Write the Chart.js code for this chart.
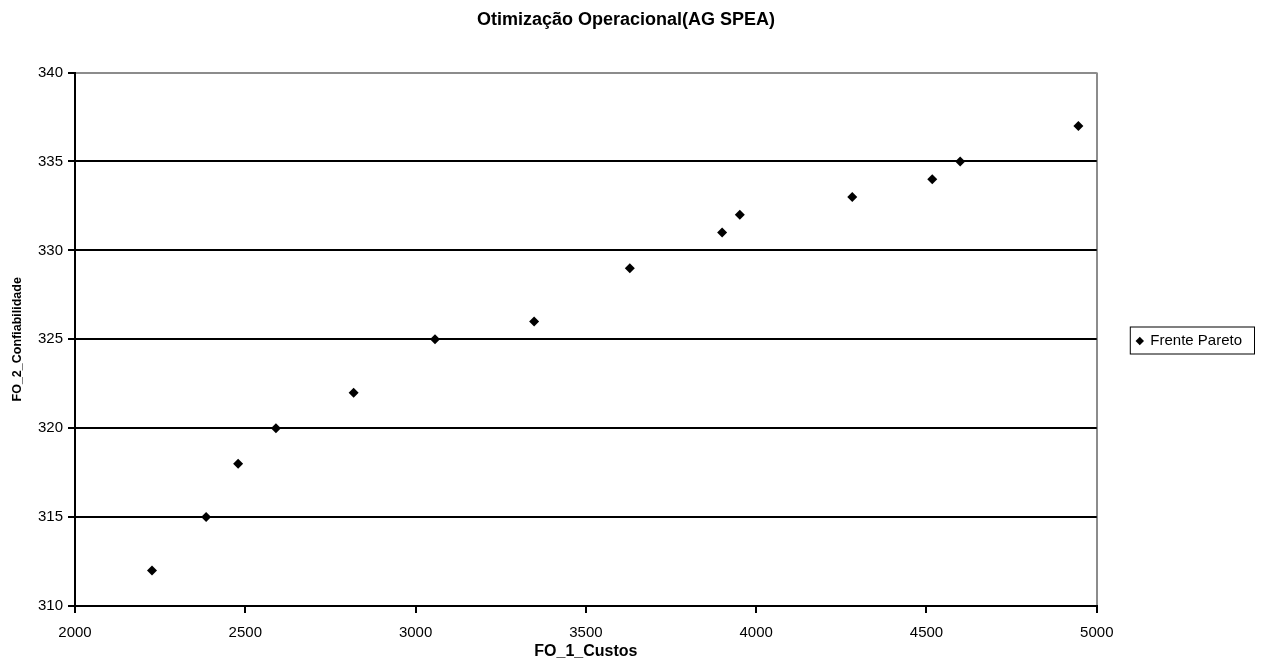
<!DOCTYPE html>
<html>
<head>
<meta charset="utf-8">
<script src="https://cdn.jsdelivr.net/npm/chart.js@4.4.1/dist/chart.umd.min.js"></script>
<style>
  body { margin: 0; background: #fff; }
  canvas { display: block; }
</style>
</head>
<body>
<canvas id="scatter" width="1261" height="670"></canvas>
<script>
//Data
let custos = [2226, 2385, 2479, 2590, 2818, 3057, 3348, 3629, 3900, 3952, 4282, 4517, 4599, 4946];
let confiabilidade = [312, 315, 318, 320, 322, 325, 326, 329, 331, 332, 333, 334, 335, 337];
let seriesName = "Frente Pareto";
let chartTitle = "Otimização Operacional(AG SPEA)";
let xTitle = "FO_1_Custos";
let yTitle = "FO_2_Confiabilidade";

//build the points list for the scatter
let points = [];
for (let i = 0; i < custos.length; i++) {
  points.push({x: custos[i], y: confiabilidade[i]});
}

let fontName = "'Liberation Sans', Arial, sans-serif";

//draw a thin box round the legend like excel does
let legendFrame = {
  id: "legendFrame",
  afterDraw: function(chart) {
    let box = chart.legend.legendHitBoxes[0];
    if (!box) return;
    let ctx = chart.ctx;
    ctx.save();
    ctx.strokeStyle = "#000";
    ctx.lineWidth = 1;
    ctx.strokeRect(box.left - 6.5, box.top - 6.5, box.width + 19, box.height + 12);
    ctx.restore();
  }
};

new Chart(document.getElementById("scatter"), {
  type: "scatter",
  data: {
    datasets: [{
      label: seriesName,
      data: points,
      pointStyle: "rectRot",
      pointRadius: 5,
      pointHoverRadius: 5,
      backgroundColor: "#000",
      borderColor: "#000",
      borderWidth: 0
    }]
  },
  options: {
    responsive: false,
    animation: false,
    layout: { padding: { top: 0, left: 0, bottom: 0, right: 9 } },
    plugins: {
      title: {
        display: true,
        text: chartTitle,
        color: "#000",
        font: { family: fontName, size: 18, weight: "bold" },
        padding: { top: 9, bottom: 42 }
      },
      legend: {
        position: "right",
        //empty title only pushes the legend item down a bit
        title: { display: true, text: " ", font: { size: 5 }, padding: 3 },
        labels: {
          color: "#000",
          font: { family: fontName, size: 15 },
          usePointStyle: true,
          boxWidth: 6,
          boxHeight: 6,
          padding: 40
        }
      },
      tooltip: { enabled: false }
    },
    scales: {
      x: {
        type: "linear",
        min: 2000,
        max: 5000,
        ticks: {
          stepSize: 500,
          color: "#000",
          padding: 11,
          font: { family: fontName, size: 15 },
          callback: function(v) { return String(v); }
        },
        grid: {
          color: function(c) { return c.tick && c.tick.value === 5000 ? "#8c8c8c" : "rgba(0,0,0,0)"; },
          lineWidth: 2,
          tickColor: "#000",
          tickLength: 7
        },
        border: { color: "#000", width: 2 },
        title: {
          display: true,
          text: xTitle,
          color: "#000",
          font: { family: fontName, size: 16, weight: "bold" },
          padding: { top: 0, bottom: 9 }
        },
        afterFit: function(s) { s.height = 64; }
      },
      y: {
        min: 310,
        max: 340,
        ticks: {
          stepSize: 5,
          color: "#000",
          padding: 5,
          font: { family: fontName, size: 15 },
          callback: function(v) { return String(v); }
        },
        grid: {
          color: function(c) { return c.tick && c.tick.value === 340 ? "#8c8c8c" : "#000"; },
          lineWidth: 2,
          tickColor: "#000",
          tickLength: 7
        },
        border: { color: "#000", width: 2 },
        title: {
          display: true,
          text: yTitle,
          color: "#000",
          font: { family: fontName, size: 12.5, weight: "bold" },
          padding: { top: 10, bottom: 0 }
        },
        afterFit: function(s) { s.width = 75; }
      }
    }
  },
  plugins: [legendFrame]
});
</script>
</body>
</html>
